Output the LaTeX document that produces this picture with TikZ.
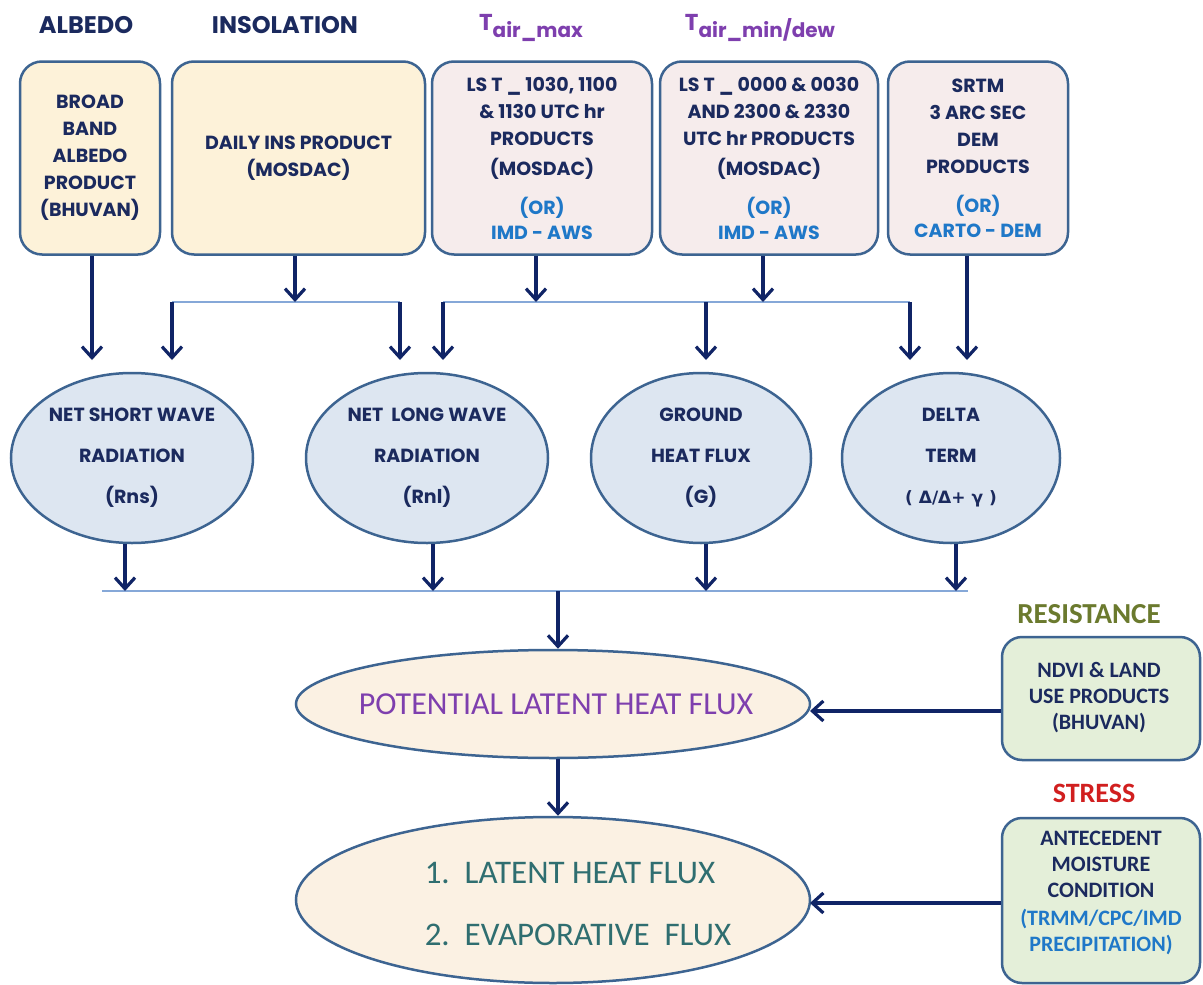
\documentclass[tikz,border=0pt]{standalone}
\usepackage{fontspec}
\setmainfont{Poppins}
\newfontfamily\calfont{Carlito}
\newfontfamily\grkfont{DejaVu Sans}
\usetikzlibrary{arrows.meta,shapes.geometric}

\definecolor{navy}{HTML}{1B2A5E}
\definecolor{bord}{HTML}{3D6491}
\definecolor{arrowc}{HTML}{102466}
\definecolor{branchc}{HTML}{86A8D8}
\definecolor{cream}{HTML}{FDF2D9}
\definecolor{pinkf}{HTML}{F6ECEC}
\definecolor{eblue}{HTML}{DDE6F1}
\definecolor{peach}{HTML}{FBF1E3}
\definecolor{greenf}{HTML}{E4EFD9}
\definecolor{bluet}{HTML}{1F78C8}
\definecolor{purp}{HTML}{7E3FAE}
\definecolor{olive}{HTML}{6B7A2E}
\definecolor{redt}{HTML}{D11F1F}
\definecolor{tealt}{HTML}{2F6E70}

\begin{document}
\begin{tikzpicture}[x=1pt,y=-1pt,
  srcbox/.style={draw=bord, line width=2.5pt, rounded corners=22pt,
    minimum height=193pt, align=center, text=navy, inner sep=0pt,
    font=\fontsize{19}{27}\selectfont\bfseries},
  ell/.style={ellipse, draw=bord, line width=2.5pt, fill=eblue,
    minimum height=170pt, inner sep=0pt, align=center, text=navy,
    font=\fontsize{19}{41}\selectfont\bfseries},
  bigell/.style={ellipse, draw=bord, line width=2.5pt, fill=peach,
    minimum width=514pt, inner sep=0pt},
  gbox/.style={draw=bord, line width=2.5pt, rounded corners=20pt,
    fill=greenf, minimum width=198pt, inner sep=0pt},
  gtext/.style={align=center, text=navy, font=\calfont\fontsize{22}{26}\selectfont\bfseries},
  head/.style={text=navy, font=\fontsize{24}{26}\selectfont\bfseries},
  arr/.style={draw=arrowc, line width=3.2pt,
    -{Straight Barb[length=11pt,width=20pt,line width=3.2pt]}},
  branch/.style={draw=branchc, line width=2pt},
]
\useasboundingbox[fill=white] (0,0) rectangle (1203,985);

% column headings
\node[head] (hA) at (86,25) {ALBEDO};
\node[head] (hI) at (285,25) {INSOLATION};
\node[text=purp, font=\bfseries] (hT1) at (531,28)
  {{\fontsize{23}{24}\selectfont T}{\fontsize{20}{22}\selectfont\raisebox{-7pt}{air\_max}}};
\node[text=purp, font=\bfseries] (hT2) at (760,28)
  {{\fontsize{23}{24}\selectfont T}{\fontsize{20}{22}\selectfont\raisebox{-7pt}{air\_min/dew}}};

% input products
\node[srcbox, fill=cream, minimum width=140pt] (alb) at (90,158)
  {BROAD\\BAND\\ALBEDO\\PRODUCT\\(BHUVAN)};
\node[srcbox, fill=cream, minimum width=253pt] (ins) at (298.5,158)
  {DAILY INS PRODUCT\\(MOSDAC)};
\node[srcbox, fill=pinkf, minimum width=220pt] (tmax) at (542,158)
  {LS T \_ 1030, 1100\\\& 1130 UTC hr\\PRODUCTS\\[3pt](MOSDAC)\\[12pt]
   \textcolor{bluet}{(OR)}\\[-2pt]\textcolor{bluet}{IMD - AWS}};
\node[srcbox, fill=pinkf, minimum width=218pt] (tmin) at (769,158)
  {LS T \_ 0000 \& 0030\\AND 2300 \& 2330\\UTC hr PRODUCTS\\[3pt](MOSDAC)\\[12pt]
   \textcolor{bluet}{(OR)}\\[-2pt]\textcolor{bluet}{IMD - AWS}};
\node[srcbox, fill=pinkf, minimum width=180pt] (srtm) at (978,158)
  {SRTM\\3 ARC SEC\\DEM\\PRODUCTS\\[12pt]
   \textcolor{bluet}{(OR)}\\[-2pt]\textcolor{bluet}{CARTO - DEM}};

% energy balance terms
\node[ell, minimum width=242pt] (rns) at (132,458)
  {NET SHORT WAVE\\RADIATION\\(Rns)};
\node[ell, minimum width=242pt] (rnl) at (427,458)
  {NET\ \ LONG WAVE\\RADIATION\\(Rnl)};
\node[ell, minimum width=220pt] (gflux) at (701,458)
  {GROUND\\HEAT FLUX\\(G)};
\node[ell, minimum width=218pt] (delta) at (951,458)
  {DELTA\\TERM\\{\grkfont\fontsize{17}{41}\selectfont ( Δ/Δ+ γ )}};

% flux estimates
\node[bigell, minimum height=108pt] (plhf) at (553,704) {};
\node[text=purp, font=\calfont\fontsize{32}{34}\selectfont] (plhft) at (556,704)
  {POTENTIAL LATENT HEAT FLUX};
\node[bigell, minimum height=166pt] (lhf) at (553,900) {};
\node[align=left, text=tealt, font=\calfont\fontsize{33}{62}\selectfont] (lhft) at (578,904)
  {1.\ \ LATENT HEAT FLUX\\2.\ \ EVAPORATIVE\ \ FLUX};

% resistance and stress inputs
\node[text=olive, font=\calfont\fontsize{29}{30}\selectfont\bfseries] (hR) at (1089,614) {RESISTANCE};
\node[gbox, minimum height=123pt] (ndvi) at (1101,698.5) {};
\node[gtext] (ndvit) at (1099,698) {NDVI \& LAND\\USE PRODUCTS\\(BHUVAN)};
\node[text=redt, font=\calfont\fontsize{28}{30}\selectfont\bfseries] (hS) at (1094,793) {STRESS};
\node[gbox, minimum height=165pt] (amc) at (1101,900.5) {};
\node[gtext] (amct) at (1101,893)
  {ANTECEDENT\\MOISTURE\\CONDITION\\[2pt]\textcolor{bluet}{(TRMM/CPC/IMD}\\\textcolor{bluet}{PRECIPITATION)}};

% junction and tip points
\coordinate (ja) at (295,302);
\coordinate (jb) at (536,302);
\coordinate (jc) at (763,302);
\coordinate (ba1) at (172,302);
\coordinate (ba2) at (400,302);
\coordinate (bb1) at (443,302);
\coordinate (bb2) at (706,302);
\coordinate (bb3) at (910,302);
\coordinate (t1) at (92,360);
\coordinate (t5) at (967,360);
\coordinate (cl) at (102,591);
\coordinate (cr) at (968,591);
\coordinate (c1) at (125,591);
\coordinate (c2) at (433,591);
\coordinate (c3) at (706,591);
\coordinate (c4) at (956,591);
\coordinate (m0) at (558,591);
\coordinate (r1) at (810,711);
\coordinate (r2) at (810,903);

% distribution lines
\draw[branch] (ba1) -- (ba2);
\draw[branch] (bb1) -- (bb3);
\draw[branch] (cl) -- (cr);

% inputs to terms
\draw[arr] (alb.south -| t1) -- (t1);
\draw[arr] (ins.south -| ja) -- (ja);
\draw[arr] (tmax.south -| jb) -- (jb);
\draw[arr] (tmin.south -| jc) -- (jc);
\draw[arr] (srtm.south -| t5) -- (t5);
\draw[arr] (ba1) -- (ba1 |- t1);
\draw[arr] (ba2) -- (ba2 |- t1);
\draw[arr] (bb1) -- (bb1 |- t1);
\draw[arr] (bb2) -- (bb2 |- t1);
\draw[arr] (bb3) -- (bb3 |- t1);

% terms to flux
\draw[arr] (rns.south -| c1) -- (c1);
\draw[arr] (rnl.south -| c2) -- (c2);
\draw[arr] (gflux.south -| c3) -- (c3);
\draw[arr] (delta.south -| c4) -- (c4);
\draw[arr] (m0) -- (plhf.north -| m0);
\draw[arr] (plhf.south -| m0) -- (lhf.north -| m0);
\draw[arr] (ndvi.west |- r1) -- (r1);
\draw[arr] (amc.west |- r2) -- (r2);
\end{tikzpicture}
\end{document}
